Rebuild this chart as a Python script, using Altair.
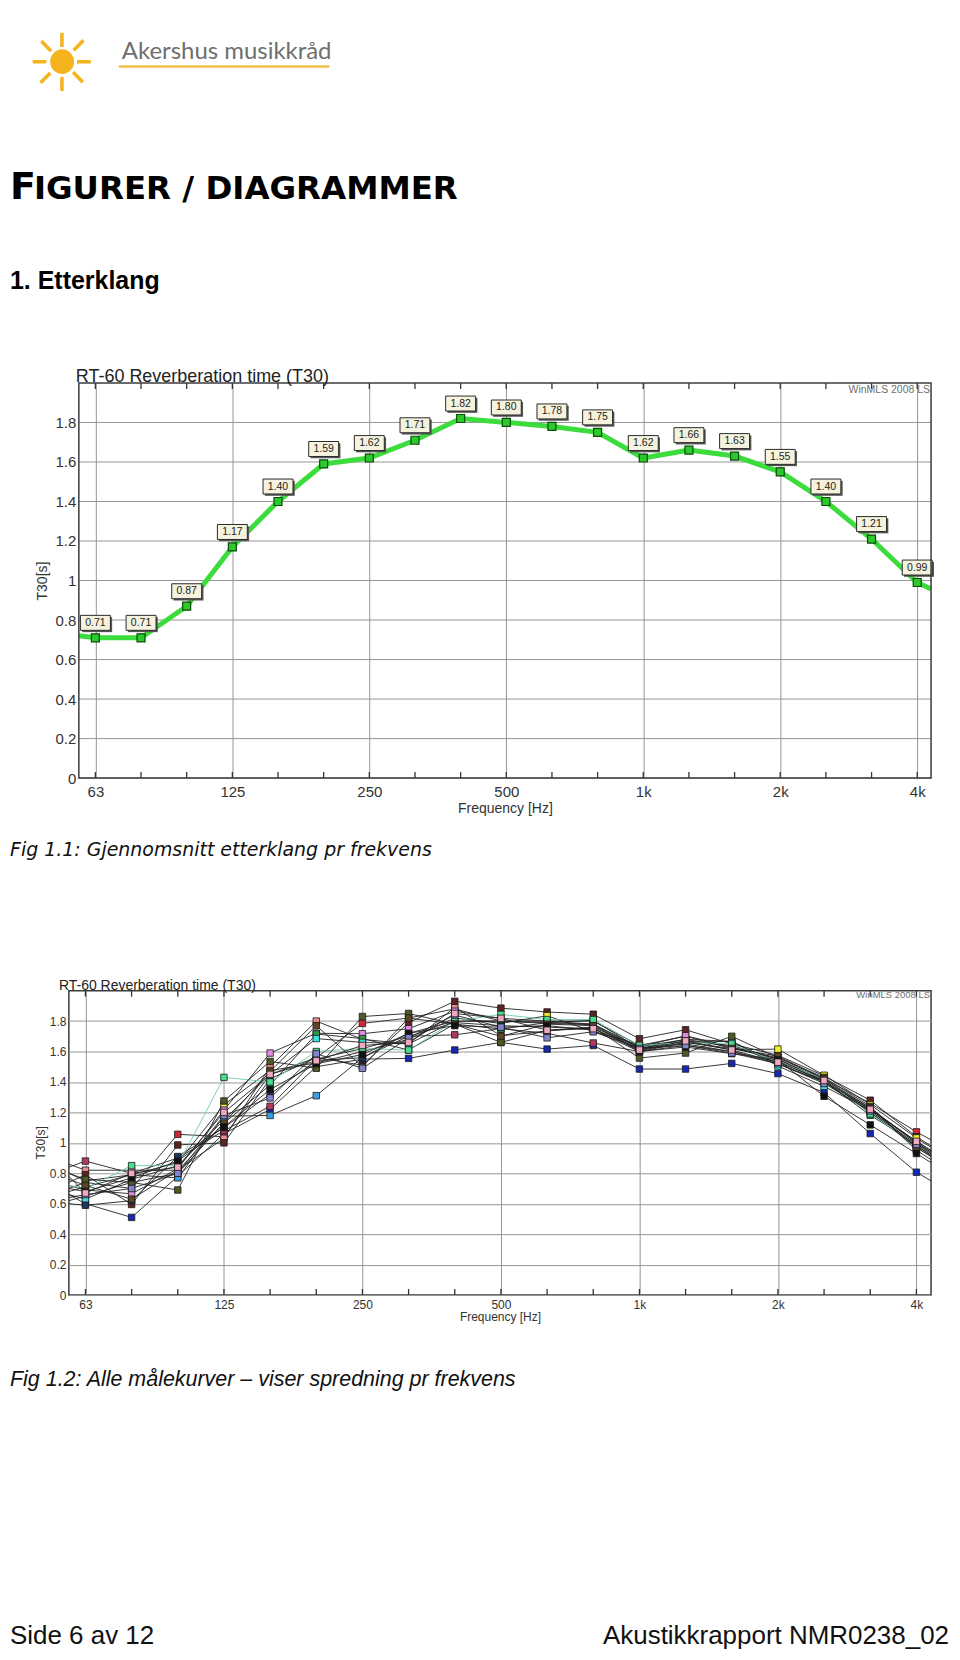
import json
import altair as alt
import pandas as pd

# ---------------------------------------------------------------- data
# 1/3-octave bands; first ("50") and last ("5k") entries hold the value
# where each drawn curve meets the left / right plot frame.
BANDS = ["50", "63", "80", "100", "125", "160", "200", "250", "315", "400",
         "500", "630", "800", "1k", "1.25k", "1.6k", "2k", "2.5k", "3.15k",
         "4k", "5k"]
OCTAVE_TICKS = [1, 4, 7, 10, 13, 16, 19]
Y_TICKS = [0, 0.2, 0.4, 0.6, 0.8, 1.0, 1.2, 1.4, 1.6, 1.8]

# Fig 1.1 - average T30 [s]
AVG_T30 = [0.72, 0.71, 0.71, 0.87, 1.17, 1.40, 1.59, 1.62, 1.71, 1.82, 1.80,
           1.78, 1.75, 1.62, 1.66, 1.63, 1.55, 1.40, 1.21, 0.99, 0.957]

# Fig 1.2 - all measurement curves T30 [s]
M01 = [0.66, 0.60, 0.51, 0.78, 1.06, 1.22, 1.50, 1.55, 1.555, 1.61, 1.66, 1.616, 1.64, 1.485, 1.485, 1.522, 1.455, 1.33, 1.061, 0.807, 0.75]
M02 = [0.80, 0.75, 0.79, 0.77, 1.175, 1.18, 1.31, 1.56, 1.72, 1.80, 1.80, 1.79, 1.78, 1.62, 1.68, 1.667, 1.52, 1.40, 1.20, 0.98, 0.92]
M03 = [0.70, 0.74, 0.70, 1.056, 1.04, 1.45, 1.56, 1.785, 1.82, 1.88, 1.80, 1.80, 1.80, 1.64, 1.70, 1.62, 1.56, 1.42, 1.26, 1.072, 1.02]
M04 = [0.84, 0.88, 0.80, 0.90, 1.08, 1.24, 1.55, 1.62, 1.70, 1.71, 1.75, 1.72, 1.656, 1.60, 1.64, 1.60, 1.52, 1.40, 1.22, 1.01, 0.95]
M05 = [0.86, 0.82, 0.82, 0.82, 1.03, 1.50, 1.80, 1.68, 1.65, 1.89, 1.704, 1.735, 1.76, 1.63, 1.68, 1.63, 1.55, 1.41, 1.23, 1.00, 0.94]
M06 = [0.74, 0.79, 0.595, 0.986, 1.00, 1.42, 1.56, 1.51, 1.79, 1.93, 1.885, 1.86, 1.845, 1.684, 1.743, 1.65, 1.575, 1.44, 1.28, 1.04, 0.98]
M07 = [0.68, 0.71, 0.79, 0.87, 1.25, 1.475, 1.525, 1.60, 1.68, 1.82, 1.785, 1.835, 1.732, 1.645, 1.662, 1.612, 1.616, 1.444, 1.251, 1.032, 0.97]
M08 = [0.72, 0.69, 0.665, 0.83, 1.215, 1.59, 1.72, 1.717, 1.75, 1.865, 1.818, 1.80, 1.78, 1.63, 1.704, 1.63, 1.54, 1.40, 1.22, 1.00, 0.94]
M09 = [0.62, 0.65, 0.74, 0.80, 1.13, 1.38, 1.715, 1.685, 1.61, 1.78, 1.748, 1.79, 1.805, 1.62, 1.67, 1.64, 1.55, 1.406, 1.181, 0.995, 0.93]
M10 = [0.66, 0.63, 0.76, 0.85, 1.15, 1.45, 1.685, 1.66, 1.65, 1.80, 1.80, 1.785, 1.776, 1.607, 1.66, 1.667, 1.505, 1.371, 1.214, 0.98, 0.92]
M11 = [0.60, 0.59, 0.62, 0.91, 1.10, 1.32, 1.54, 1.56, 1.70, 1.79, 1.77, 1.76, 1.75, 1.62, 1.65, 1.60, 1.53, 1.42, 1.20, 0.97, 0.91]
M12 = [0.72, 0.70, 0.85, 0.85, 1.43, 1.40, 1.60, 1.62, 1.61, 1.80, 1.844, 1.81, 1.81, 1.64, 1.66, 1.65, 1.53, 1.42, 1.19, 0.99, 0.93]
M13 = [0.80, 0.76, 0.74, 0.69, 1.275, 1.535, 1.49, 1.83, 1.85, 1.78, 1.66, 1.74, 1.76, 1.557, 1.59, 1.70, 1.56, 1.43, 1.24, 0.951, 0.89]
M14 = [0.76, 0.72, 0.63, 0.82, 1.13, 1.47, 1.77, 1.50, 1.82, 1.78, 1.70, 1.78, 1.77, 1.60, 1.66, 1.62, 1.57, 1.42, 1.23, 0.97, 0.91]
M15 = [0.70, 0.68, 0.77, 0.88, 1.105, 1.35, 1.52, 1.58, 1.72, 1.77, 1.76, 1.77, 1.74, 1.60, 1.63, 1.586, 1.546, 1.306, 1.118, 0.93, 0.87]
M16 = [0.64, 0.66, 0.70, 0.80, 1.18, 1.295, 1.585, 1.49, 1.69, 1.84, 1.76, 1.69, 1.73, 1.62, 1.64, 1.59, 1.52, 1.39, 1.21, 0.99, 0.93]
M17 = [0.78, 0.67, 0.80, 0.84, 1.20, 1.45, 1.54, 1.64, 1.66, 1.85, 1.818, 1.74, 1.75, 1.61, 1.67, 1.61, 1.53, 1.41, 1.22, 1.01, 0.95]

SERIES_NAMES = ["M01", "M02", "M03", "M04", "M05", "M06", "M07", "M08", "M09",
                "M10", "M11", "M12", "M13", "M14", "M15", "M16", "M17"]
SERIES_VALUES = [M01, M02, M03, M04, M05, M06, M07, M08, M09,
                 M10, M11, M12, M13, M14, M15, M16, M17]

# ---------------------------------------------------------------- styles
FILL_COLORS = ["#1428b4", "#3a9ee0", "#d0283a", "#b03a5e", "#ec8c8c", "#5e2424",
               "#f2f22a", "#e08ae0", "#2e9a48", "#3ae0e0", "#1c3862", "#48dc8c",
               "#4c5a24", "#5c4426", "#111111", "#8484d0", "#f2a8c0"]
LINE_COLORS = ["#222222"] * 11 + ["#6ccaa8"] + ["#222222"] * 5
GRID = "#969696"
FRAME = "#3c3c3c"
FONT = "Liberation Sans"
LABEL_EXPR = json.dumps(BANDS) + "[datum.value]"

idx = list(range(len(BANDS)))
df1 = pd.DataFrame({"idx": idx, "band": BANDS, "T30": AVG_T30})
df1_pts = df1[(df1.idx >= 1) & (df1.idx <= 19)]
rows = []
for name, vals in zip(SERIES_NAMES, SERIES_VALUES):
    for i, v in zip(idx, vals):
        rows.append({"idx": i, "band": BANDS[i], "series": name, "T30": v})
df2 = pd.DataFrame(rows)
df2_pts = df2[(df2.idx >= 1) & (df2.idx <= 19)]
df_ticks = pd.DataFrame({"idx": idx[1:20]})
df_ygrid = pd.DataFrame({"T30": Y_TICKS})
ONE = pd.DataFrame({"a": [0]})

# All panels share one origin (page x = 68); every panel spans page x 8..952.
L, R = -60, 884


def txt(s, x, y, size, font=FONT, align="left", baseline="alphabetic",
        color="#111111", weight="normal", style="normal"):
    return alt.Chart(pd.DataFrame({"t": [s]})).mark_text(
        align=align, baseline=baseline, font=font, fontSize=size,
        color=color, fontWeight=weight, fontStyle=style
    ).encode(x=alt.value(x), y=alt.value(y), text="t:N")


def frame_box(y1, y2):
    return alt.Chart(ONE).mark_rect(opacity=0).encode(
        x=alt.value(L), x2=alt.value(R), y=alt.value(y1), y2=alt.value(y2))


def axes(domain, rng, lab, title_size, label_pad, title_x, title_y,
         xt_x, xt_y, height, yoffset, ygrid):
    xs = alt.Scale(domain=domain, range=rng, nice=False, zero=False, clamp=True)
    ys = alt.Scale(domain=[0, 2.0], nice=False, zero=True)
    xa = alt.Axis(values=OCTAVE_TICKS, labelExpr=LABEL_EXPR, grid=True,
                  gridColor=GRID, gridWidth=1, ticks=False, tickSize=0,
                  domain=False, labelFontSize=lab, labelColor="#333333",
                  labelFont=FONT, labelPadding=label_pad, labelFlush=False,
                  title="Frequency [Hz]", titleFont=FONT,
                  titleFontSize=title_size, titleFontWeight="normal",
                  titleColor="#333333", titleX=xt_x, titleY=xt_y,
                  titleAlign="center", titleBaseline="alphabetic")
    ya = alt.Axis(values=Y_TICKS, format=".1~f", grid=ygrid, gridColor=GRID,
                  gridWidth=1, ticks=False, tickSize=0, domain=False,
                  offset=yoffset,
                  labelFontSize=lab, labelColor="#333333", labelFont=FONT,
                  labelPadding=3, labelFlush=False, title="T30[s]",
                  titleFont=FONT, titleFontSize=title_size,
                  titleFontWeight="normal", titleColor="#333333",
                  titleX=title_x, titleY=title_y, titleAngle=270,
                  titleAlign="center", titleBaseline="middle")
    X = alt.X("idx:Q", scale=xs, axis=xa)
    Y = alt.Y("T30:Q", scale=ys, axis=ya)
    ticks_top = alt.Chart(df_ticks).mark_rule(color="#333333", strokeWidth=1.3).encode(
        x=X, y=alt.value(0), y2=alt.value(6))
    ticks_bot = alt.Chart(df_ticks).mark_rule(color="#333333", strokeWidth=1.3).encode(
        x=X, y=alt.value(height), y2=alt.value(height - 6))
    return X, Y, ticks_top, ticks_bot


# ---------------------------------------------------------------- header
header = alt.layer(
    frame_box(0, 322),
    txt("\u2600", -7, 57, 80, font="DejaVu Sans", align="center",
        baseline="middle", color="#f5b31e"),
    txt("Akershus musikkråd", 53, 49, 24, font="Lato", color="#6f6f6f"),
    alt.Chart(ONE).mark_rule(color="#f0c24a", strokeWidth=2.5).encode(
        x=alt.value(50), x2=alt.value(261), y=alt.value(57)),
    txt("F", -59, 190, 38, font="DejaVu Sans", weight="bold", color="#000000"),
    txt("IGURER / DIAGRAMMER", -35, 190, 32.5, font="DejaVu Sans", weight="bold",
        color="#000000"),
    txt("1. Etterklang", -59, 280, 25, weight="bold", color="#000000"),
).properties(width=864, height=322, view=alt.ViewBackground(stroke=None))

# ---------------------------------------------------------------- chart 1
# plot frame occupies x 10..864 of this 864-wide view (page x 78..932)
W1, H1 = 864, 396
P1 = 10
X1, Y1, tt1, tb1 = axes([0.638, 19.303], [P1, W1], 15, 14, 6, -36, 198,
                        (P1 + W1) / 2, 34, H1, -P1, False)
BOX = "M-1,-1.5H1V-0.5H-1Z"
SHADOW = "M-0.88,-1.38H1.12V-0.38H-0.88Z"

ygrid1 = alt.Chart(df_ygrid).mark_rule(color=GRID, strokeWidth=1).encode(
    y=Y1, x=alt.value(P1), x2=alt.value(W1))
frame1 = alt.Chart(ONE).mark_rect(fill="transparent", stroke=FRAME, strokeWidth=1.5).encode(
    x=alt.value(P1), x2=alt.value(W1), y=alt.value(0), y2=alt.value(H1))
line1 = alt.Chart(df1).mark_line(color="#3ddc3d", strokeWidth=5).encode(x=X1, y=Y1)
shadow1 = alt.Chart(df1_pts).mark_point(shape=SHADOW, size=900, filled=True, fill="#555555",
                                        strokeWidth=0, opacity=1).encode(x=X1, y=Y1)
box1 = alt.Chart(df1_pts).mark_point(shape=BOX, size=900, filled=True, fill="#f5f2dd",
                                     stroke="#2a2a2a", strokeWidth=1, opacity=1).encode(x=X1, y=Y1)
lab1 = alt.Chart(df1_pts).mark_text(dy=-15, fontSize=10.5, font=FONT, color="#222222").encode(
    x=X1, y=Y1, text=alt.Text("T30:Q", format=".2f"))
pts1 = alt.Chart(df1_pts).mark_square(size=64, fill="#2bc92b", stroke="#0c4a0c",
                                      strokeWidth=1.2, opacity=1).encode(x=X1, y=Y1)

chart1 = alt.layer(
    frame_box(-52, 498),
    ygrid1, tt1, tb1, line1, shadow1, box1, lab1, pts1, frame1,
    txt("RT-60 Reverberation time (T30)", 7, -1, 18, color="#222222"),
    txt("WinMLS 2008 LS", W1 - 1, 10, 10.5, align="right", color="#707070"),
    txt("Fig 1.1: Gjennomsnitt etterklang pr frekvens", -59, 474, 19,
        font="DejaVu Sans", style="italic", color="#111111"),
).properties(width=W1, height=H1, view=alt.ViewBackground(stroke=None))

# ---------------------------------------------------------------- chart 2
W2, H2 = 864, 305
X2, Y2, tt2, tb2 = axes([0.641, 19.317], [0, W2], 12, 12, 5, -28, 152,
                        W2 / 2, 26, H2, 0, True)

lines2 = alt.Chart(df2).mark_line(strokeWidth=0.9, clip=True).encode(
    x=X2, y=Y2,
    stroke=alt.Stroke("series:N", scale=alt.Scale(domain=SERIES_NAMES, range=LINE_COLORS),
                      legend=None))
pts2 = alt.Chart(df2_pts).mark_square(size=42, stroke="#1a1a1a", strokeWidth=0.8,
                                      opacity=1).encode(
    x=X2, y=Y2,
    fill=alt.Fill("series:N", scale=alt.Scale(domain=SERIES_NAMES, range=FILL_COLORS),
                  legend=None))

chart2 = alt.layer(
    frame_box(-110, 430),
    tt2, tb2, lines2, pts2,
    txt("RT-60 Reverberation time (T30)", -10, -1, 14, color="#222222"),
    txt("WinMLS 2008 LS", W2 - 1, 7, 9.5, align="right", color="#707070"),
    txt("Fig 1.2: Alle målekurver – viser spredning pr frekvens", -59, 396, 21.5,
        style="italic", color="#111111"),
).properties(width=W2, height=H2,
             view=alt.ViewBackground(stroke=FRAME, strokeWidth=1.5))

# ---------------------------------------------------------------- footer
footer = alt.layer(
    frame_box(0, 229),
    txt("Side 6 av 12", -59, 224, 26),
    txt("Akustikkrapport NMR0238_02", 882, 224, 26, align="right"),
).properties(width=864, height=229, view=alt.ViewBackground(stroke=None))

chart = alt.vconcat(header, chart1, chart2, footer, spacing=0).properties(
    padding=0, background="white"
).configure(font=FONT).configure_view(stroke=None)

chart.save("out.html", embed_options={"renderer": "svg", "actions": False})
